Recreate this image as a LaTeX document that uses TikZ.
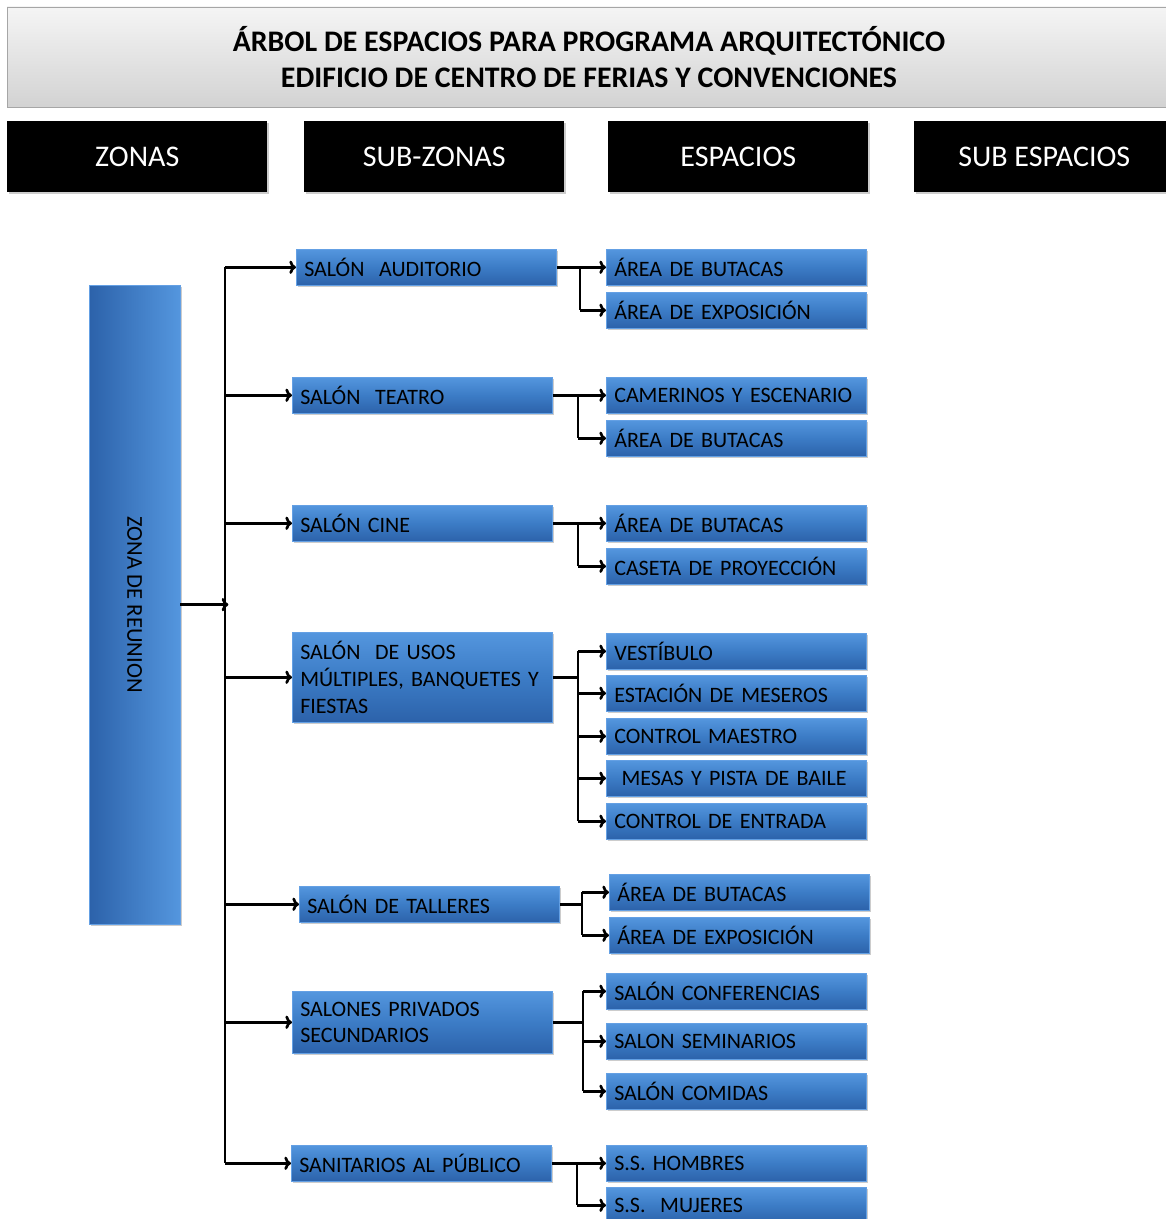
\documentclass[tikz,border=0pt]{standalone}
\usepackage{fontspec}
\setmainfont{Carlito}
\usepackage{xcolor}
\usetikzlibrary{shadows,arrows.meta}
\definecolor{deepblue}{RGB}{44,98,170}
\definecolor{midblue}{RGB}{60,124,198}
\definecolor{lightblue}{RGB}{84,150,222}
\definecolor{edgeblue}{RGB}{100,160,228}

\begin{document}
\begin{tikzpicture}[x=0.75pt,y=-0.75pt,
  bluebox/.style={draw=edgeblue, top color=lightblue, bottom color=deepblue, middle color=midblue,
    drop shadow={opacity=0.4,shadow xshift=1.5pt,shadow yshift=-1.5pt},
    anchor=north west, inner xsep=6pt, inner ysep=2pt, text width=183pt,
    minimum height=27pt, align=left, font=\fontsize{16.5}{20}\selectfont},
  headbox/.style={fill=black, anchor=north west, minimum width=195pt,
    minimum height=53pt, text=white, font=\fontsize{22.5}{26}\selectfont,
    drop shadow={opacity=0.4,shadow xshift=1.5pt,shadow yshift=-1.5pt}},
  link/.style={line width=2pt},
  arr/.style={link,-{To[length=5pt,width=10pt]}}]
  \useasboundingbox (0,0) rectangle (1165,1219);
  % title and column heads
  \shade[top color=gray!8, bottom color=gray!35, draw=gray!70] (7,7) rectangle (1180,107);
  \node[font=\fontsize{22.4}{26.5}\selectfont\bfseries, align=center] (title) at (589,57)
    {ÁRBOL DE ESPACIOS PARA PROGRAMA ARQUITECTÓNICO\\EDIFICIO DE CENTRO DE FERIAS Y CONVENCIONES};
  \node[headbox] (hzon) at (7,121) {ZONAS};
  \node[headbox] (hsub) at (304,121) {SUB-ZONAS};
  \node[headbox] (hesp) at (608,121) {ESPACIOS};
  \node[headbox] (hsesp) at (914,121) {SUB ESPACIOS};
  % zone
  \node[bluebox, left color=deepblue, right color=lightblue, text width=56pt, minimum height=479pt] (zona) at (89,285) {};
  \node[rotate=-90, font=\fontsize{17}{20}\selectfont] (zonatxt) at (zona.center) {ZONA DE REUNION};
  \coordinate (tr) at (225,0);
  % sub-zones
  \node[bluebox] (aud) at (296,249) {SALÓN\ \ AUDITORIO};
  \node[bluebox] (tea) at (292,377) {SALÓN\ \ TEATRO};
  \node[bluebox] (cin) at (292,505) {SALÓN CINE};
  \node[bluebox, minimum height=67.5pt] (uso) at (292,632) {SALÓN\ \ DE USOS\\MÚLTIPLES, BANQUETES Y\\FIESTAS};
  \node[bluebox] (tal) at (299,886) {SALÓN DE TALLERES};
  \node[bluebox, minimum height=46.5pt] (pri) at (292,991) {SALONES PRIVADOS\\SECUNDARIOS};
  \node[bluebox] (san) at (291,1145) {SANITARIOS AL PÚBLICO};
  % spaces
  \node[bluebox] (e11) at (606,249) {ÁREA DE BUTACAS};
  \node[bluebox] (e12) at (606,292) {ÁREA DE EXPOSICIÓN};
  \node[bluebox] (e21) at (606,377) {CAMERINOS Y ESCENARIO};
  \node[bluebox] (e22) at (606,420) {ÁREA DE BUTACAS};
  \node[bluebox] (e31) at (606,505) {ÁREA DE BUTACAS};
  \node[bluebox] (e32) at (606,548) {CASETA DE PROYECCIÓN};
  \node[bluebox] (e41) at (606,633) {VESTÍBULO};
  \node[bluebox] (e42) at (606,675) {ESTACIÓN DE MESEROS};
  \node[bluebox] (e43) at (606,718) {CONTROL MAESTRO};
  \node[bluebox] (e44) at (606,760) {\ MESAS Y PISTA DE BAILE};
  \node[bluebox] (e45) at (606,803) {CONTROL DE ENTRADA};
  \node[bluebox] (e51) at (609,874) {ÁREA DE BUTACAS};
  \node[bluebox] (e52) at (609,917) {ÁREA DE EXPOSICIÓN};
  \node[bluebox] (e61) at (606,973) {SALÓN CONFERENCIAS};
  \node[bluebox] (e62) at (606,1023) {SALON SEMINARIOS};
  \node[bluebox] (e63) at (606,1073) {SALÓN COMIDAS};
  \node[bluebox] (e71) at (606,1145) {S.S. HOMBRES};
  \node[bluebox] (e72) at (606,1187) {S.S.\ \ MUJERES};
  % trunk
  \draw[link] (aud.west -| tr) -- (san.west -| tr);
  \draw[arr] (zona.east) -- ([xshift=2.5pt]zona.east -| tr);
  \draw[arr] (aud.west -| tr) -- (aud.west);
  \draw[arr] (tea.west -| tr) -- (tea.west);
  \draw[arr] (cin.west -| tr) -- (cin.west);
  \draw[arr] (uso.west -| tr) -- (uso.west);
  \draw[arr] (tal.west -| tr) -- (tal.west);
  \draw[arr] (pri.west -| tr) -- (pri.west);
  \draw[arr] (san.west -| tr) -- (san.west);
  % branches
  \coordinate (b1) at (580,0);
  \draw[link] (aud.east) -- (aud.east -| b1) (e11.west -| b1) -- (e12.west -| b1);
  \draw[arr] (e11.west -| b1) -- (e11.west);
  \draw[arr] (e12.west -| b1) -- (e12.west);
  \coordinate (b2) at (578,0);
  \draw[link] (tea.east) -- (tea.east -| b2) (e21.west -| b2) -- (e22.west -| b2);
  \draw[arr] (e21.west -| b2) -- (e21.west);
  \draw[arr] (e22.west -| b2) -- (e22.west);
  \coordinate (b3) at (578,0);
  \draw[link] (cin.east) -- (cin.east -| b3) (e31.west -| b3) -- (e32.west -| b3);
  \draw[arr] (e31.west -| b3) -- (e31.west);
  \draw[arr] (e32.west -| b3) -- (e32.west);
  \coordinate (b4) at (578,0);
  \draw[link] (uso.east) -- (uso.east -| b4) (e41.west -| b4) -- (e45.west -| b4);
  \draw[arr] (e41.west -| b4) -- (e41.west);
  \draw[arr] (e42.west -| b4) -- (e42.west);
  \draw[arr] (e43.west -| b4) -- (e43.west);
  \draw[arr] (e44.west -| b4) -- (e44.west);
  \draw[arr] (e45.west -| b4) -- (e45.west);
  \coordinate (b5) at (582,0);
  \draw[link] (tal.east) -- (tal.east -| b5) (e51.west -| b5) -- (e52.west -| b5);
  \draw[arr] (e51.west -| b5) -- (e51.west);
  \draw[arr] (e52.west -| b5) -- (e52.west);
  \coordinate (b6) at (583,0);
  \draw[link] (pri.east) -- (pri.east -| b6) (e61.west -| b6) -- (e63.west -| b6);
  \draw[arr] (e61.west -| b6) -- (e61.west);
  \draw[arr] (e62.west -| b6) -- (e62.west);
  \draw[arr] (e63.west -| b6) -- (e63.west);
  \coordinate (b7) at (577,0);
  \draw[link] (san.east) -- (san.east -| b7) (e71.west -| b7) -- (e72.west -| b7);
  \draw[arr] (e71.west -| b7) -- (e71.west);
  \draw[arr] (e72.west -| b7) -- (e72.west);
\end{tikzpicture}
\end{document}
